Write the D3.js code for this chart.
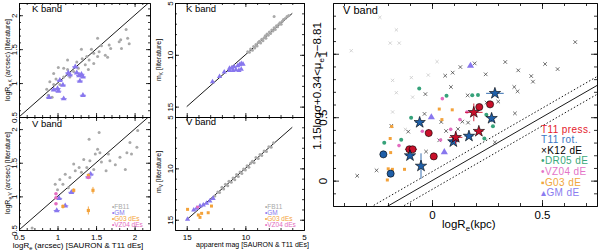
<!DOCTYPE html>
<html>
<head>
<meta charset="utf-8">
<script src="https://cdn.jsdelivr.net/npm/d3@7"></script>
<style>
  body { margin: 0; background: #fff; }
</style>
</head>
<body>
<div id="chart"></div>
<script>
// ---------- data ----------
// left column: log Re [arcsec], x = SAURON & T11, y = literature
var reK_FB11 = [[1.89,1.79],[1.91,1.66],[1.82,1.64],[1.93,1.58],[1.83,1.51],[1.80,1.61],[1.52,1.66],[1.57,1.55],
  [1.67,1.56],[1.69,1.51],[1.31,1.50],[1.44,1.50],[1.54,1.46],[1.47,1.44],[1.62,1.41],[1.38,1.39],[1.52,1.39],
  [1.65,1.38],[1.32,1.36],[1.41,1.34],[1.13,1.34],[1.25,1.31],[1.47,1.29],[1.36,1.27],[1.01,1.23],[1.08,1.22],
  [1.27,1.22],[1.40,1.20],[1.13,1.20],[1.21,1.17],[0.95,1.14],[1.08,1.09],[0.98,1.06],[0.90,1.02],[0.95,0.98],
  [0.86,0.91],[1.03,0.98],[0.88,0.82],[0.93,0.79],[1.16,1.09]];
var reK_GM = [[1.23,1.24],[1.14,1.15],[1.16,1.12],[1.25,1.15],[1.31,1.13],[1.28,1.11],[1.33,1.09],[1.29,1.03],
  [1.03,1.04],[1.07,0.97],[1.00,0.92],[0.95,0.90],[1.01,0.88],[0.89,0.79],[1.08,0.77],[1.33,0.82]];
var reV_FB11 = [[1.54,1.95],[1.41,1.85],[2.04,1.98],[1.94,1.80],[2.03,1.73],[1.52,1.70],[1.55,1.65],[1.49,1.63],
  [1.66,1.63],[1.90,1.65],[1.96,1.63],[1.81,1.58],[1.34,1.55],[1.42,1.53],[1.57,1.51],[1.68,1.53],[1.21,1.48],
  [1.28,1.43],[1.38,1.43],[1.47,1.40],[1.23,1.38],[1.31,1.36],[1.10,1.33],[1.63,1.38],[1.03,1.25],[1.16,1.28],
  [1.07,1.18],[1.14,1.13],[1.00,1.10],[0.97,1.18],[0.67,0.53],[1.75,1.47],[1.88,1.40]];
var reV_GM = [[1.43,1.33],[1.40,1.29],[1.18,1.06],[1.02,0.97],[1.10,0.86],[0.99,0.79]];
var reV_G03 = [[1.21,1.09],[1.46,1.09],[1.07,0.85],[1.40,0.79],[1.40,1.31]];
var reV_G03err = [0.03, 0.05, 0.03, 0.06, 0.03];
var reV_VZ04 = [[1.40,1.28],[0.98,0.98],[0.98,0.89],[0.98,1.04]];

// middle column: apparent magnitudes, x = SAURON & T11, y = literature
var magK_FB11 = [[9.8,9.7],[9.65,9.75],[9.55,9.45],[9.4,9.55],[9.3,9.2],[9.2,9.35],[9.1,9.0],[9.0,9.15],[8.9,8.8],
  [8.8,8.7],[8.7,8.85],[8.6,8.5],[8.5,8.65],[8.4,8.35],[8.3,8.15],[8.25,8.4],[8.15,8.0],[8.05,8.1],[7.95,7.8],
  [7.85,7.95],[7.75,7.6],[7.65,7.7],[7.55,7.4],[7.45,7.55],[7.35,7.2],[7.25,7.3],[7.15,7.05],[7.05,6.9],[6.95,7.05],
  [6.85,6.75],[6.75,6.6],[6.6,6.5],[6.45,6.3],[6.3,6.2],[7.55,6.3]];
var magK_GM = [[12.8,12.6],[12.2,12.1],[11.8,11.65],[11.35,11.3],[11.15,11.25],[10.95,11.15],[10.65,11.05],
  [10.5,10.95],[10.35,10.85],[10.2,10.9],[11.35,11.5],[11.05,11.5],[10.8,11.45],[10.55,11.5],[10.35,11.4]];
var magV_FB11 = [[12.6,12.7],[12.35,12.3],[12.2,12.35],[12.0,11.85],[11.85,12.0],[11.7,11.55],[11.5,11.7],
  [11.4,11.25],[11.2,11.35],[11.05,10.95],[10.9,11.1],[10.75,10.6],[10.6,10.8],[10.45,10.35],[10.3,10.5],
  [10.15,10.05],[10.0,10.15],[9.85,9.75],[9.7,9.9],[9.55,9.5],[9.4,9.3],[9.25,9.45],[9.1,8.95],[8.9,9.05],
  [8.75,8.65],[8.6,8.75],[8.4,8.3],[8.2,8.35],[8.0,7.9],[7.8,7.95],[7.6,7.5]];
var magV_GM = [[14.93,14.96],[14.4,14.06],[14.15,13.89],[13.87,13.67],[13.59,13.57],[13.31,13.4],[13.03,13.18],[12.75,12.92]];
var magV_G03 = [[14.93,13.99],[14.01,14.54],[13.73,14.38],[13.87,14.77],[13.17,14.32],[12.89,13.67]];
var magV_VZ04 = [[14.07,13.76]];

// right panel: logRe (kpc) vs 1.15 log sigma + 0.34 <mu_e> - 8.81
var fpOther = [[-0.237,1.287],[-0.367,1.024],[-0.162,1.188],[-0.190,1.084],[-0.149,1.084],[-0.179,0.790],
  [-0.162,0.693],[-0.094,0.812],[-0.017,0.832],[0.023,0.938],[-0.179,0.541],[-0.121,0.404],[-0.088,0.658]];
var fpK12 = [[-0.340,0.038],[-0.252,0.081],[-0.185,0.432],[-0.108,0.386],[-0.030,0.682],[-0.034,0.526],
  [0.060,0.827],[0.094,0.851],[0.129,0.895],[0.194,0.924],[0.244,0.838],[0.333,0.935],[0.392,0.869],[0.451,0.824],
  [0.459,0.780],[0.514,0.919],[0.571,0.879],[0.651,1.092],[0.374,0.738],[0.389,0.704],[0.162,0.672],[0.301,0.623],
  [0.377,0.530],[0.086,0.738],[0.033,0.318],[-0.027,0.229],[0.042,0.462],[0.064,0.391],[0.118,0.407],[0.164,0.457],
  [0.286,0.302],[0.248,0.615],[0.138,0.465]];
var fpDR05 = [[-0.058,0.727],[0.066,0.668],[0.183,0.672],[0.209,0.675],[-0.095,0.496],[-0.217,0.298],
  [-0.140,0.322],[0.247,0.519],[0.277,0.428],[0.238,0.333]];
var fpVZ04 = [[0.047,0.646],[-0.044,0.389],[0.127,0.481],[0.039,0.320],[0.085,0.404],[-0.150,0.276],[0.159,0.541]];
var fpG03 = [[0.033,0.564],[0.092,0.558],[0.045,0.481],[-0.183,0.426],[-0.190,0.332],[-0.188,0.221],
  [-0.199,0.093],[-0.180,0.089],[-0.125,0.089],[-0.203,0.005],[-0.102,0.215]];
var fpGM = [[0.175,0.905],[-0.003,0.499],[0.056,0.225]];
var t11PressStars = [[0.190,0.538],[0.213,0.389],[0.108,0.341]];
var t11PressStarErr = [[0.04,0.07],[0.02,0.02],[0.03,0.05]];
var t11PressDisks = [[0.215,0.580],[0.264,0.601],[-0.015,0.375],[-0.103,0.247],[-0.088,0.247],[0.008,0.191]];
var t11PressDiskErr = [[0.01,0.02],[0.01,0.02],[0.01,0.03],[0.02,0.02],[0.02,0.02],[0.01,0.02]];
var t11RotStars = [[0.286,0.688],[0.271,0.491],[0.168,0.351],[0.097,0.307],[-0.056,0.459],[-0.100,0.197],[-0.050,0.115]];
var t11RotStarErr = [[0.04,0.02],[0.01,0.03],[0.02,0.02],[0.02,0.02],[0.02,0.02],[0.02,0.02],[0.01,0.10]];
var t11RotDisks = [[-0.221,0.207],[-0.188,0.055]];
var t11RotDiskErr = [[0.01,0.01],[0.01,0.01]];
var fpScatter = 0.07;

// tick labels
var reTicks = [0.5, 1, 1.5, 2];
var magTicks = [15, 10, 5];
var fpXTicks = [0, 0.5];
var fpYTicks = [0, 0.5, 1];

var fpLegend = ["T11 press.", "T11 rot.", "\u00d7K12 dE", "\u2022DR05 dE", "\u2022VZ04 dE", "\u25aaG03 dE", "\u25b4GM dE"];
var smallLegend = ["\u2022FB11", "\u2022GM", "\u2022G03 dEs", "\u2022VZ04 dEs"];

// ---------- colours ----------
var cGray = "#a9a9a9", cGM = "#8877ee", cG03 = "#f3a23a", cVZ = "#e46cc0", cDR = "#36a27a",
    cRed = "#c8102a", cBlue = "#1f5fa8", cPale = "#c9c9c9";

var svg = d3.select("#chart").append("svg")
    .attr("width", 600).attr("height", 250)
    .style("font-family", "'Liberation Sans', Arial, sans-serif");
svg.append("rect").attr("width", 600).attr("height", 250).attr("fill", "#fff");
var defs = svg.append("defs");
var nClip = 0;

function panel(xDom, xRng, yDom, yRng) {
    var x = d3.scaleLinear().domain(xDom).range(xRng);
    var y = d3.scaleLinear().domain(yDom).range(yRng);
    var id = "clip" + (nClip++);
    defs.append("clipPath").attr("id", id).append("rect")
        .attr("x", xRng[0]).attr("y", yRng[1])
        .attr("width", xRng[1] - xRng[0]).attr("height", yRng[0] - yRng[1]);
    var g = svg.append("g").attr("clip-path", "url(#" + id + ")");
    return {x: x, y: y, g: g};
}

// IDL-like frame: inward ticks on all four sides
function frame(p, o) {
    var xr = p.x.range(), yr = p.y.range();
    var sides = [
        {ax: d3.axisBottom(p.x), t: [0, yr[0]], maj: o.xMaj, min: o.xMin, lab: o.xLab},
        {ax: d3.axisTop(p.x), t: [0, yr[1]], maj: o.xMaj, min: o.xMin, lab: false},
        {ax: d3.axisLeft(p.y), t: [xr[0], 0], maj: o.yMaj, min: o.yMin, lab: o.yLab, vert: true},
        {ax: d3.axisRight(p.y), t: [xr[1], 0], maj: o.yMaj, min: o.yMin, lab: false}
    ];
    sides.forEach(function(s) {
        var gMin = svg.append("g").attr("transform", "translate(" + s.t + ")")
            .call(s.ax.tickValues(s.min).tickSize(-o.tMin).tickSizeOuter(0).tickFormat(""));
        var gMaj = svg.append("g").attr("transform", "translate(" + s.t + ")")
            .call(s.ax.tickValues(s.maj).tickSize(-o.tMaj).tickSizeOuter(0).tickPadding(o.pad)
                .tickFormat(s.lab ? function(d) { return String(d); } : ""));
        [gMin, gMaj].forEach(function(g) {
            g.selectAll("line, path").attr("stroke", "#000").attr("stroke-width", 0.8);
        });
        gMaj.selectAll("text").attr("font-size", o.font).attr("fill", "#000")
            .attr("font-family", "'Liberation Sans', Arial, sans-serif");
        if (s.vert) {
            gMaj.selectAll("text").attr("transform", "rotate(-90)")
                .attr("x", 0).attr("y", -o.ypad).attr("dy", 0).attr("text-anchor", "middle");
        }
    });
}

function dots(p, data, r, color) {
    p.g.selectAll(null).data(data).enter().append("circle")
        .attr("cx", function(d) { return p.x(d[0]); })
        .attr("cy", function(d) { return p.y(d[1]); })
        .attr("r", r).attr("fill", color);
}
function syms(p, data, type, size, fill, stroke) {
    p.g.selectAll(null).data(data).enter().append("path")
        .attr("transform", function(d) { return "translate(" + p.x(d[0]) + "," + p.y(d[1]) + ")"; })
        .attr("d", d3.symbol().type(type).size(size))
        .attr("fill", fill).attr("stroke", stroke || "none").attr("stroke-width", 0.6);
}
function crosses(p, data, s, color, w) {
    p.g.selectAll(null).data(data).enter().append("path")
        .attr("transform", function(d) { return "translate(" + p.x(d[0]) + "," + p.y(d[1]) + ")"; })
        .attr("d", "M" + (-s) + "," + (-s) + "L" + s + "," + s + "M" + (-s) + "," + s + "L" + s + "," + (-s))
        .attr("stroke", color).attr("stroke-width", w || 0.8).attr("fill", "none");
}
function errs(p, data, err, color) {
    data.forEach(function(d, i) {
        var ex = err[i][0], ey = err[i][1];
        if (ex > 0) p.g.append("line").attr("x1", p.x(d[0] - ex)).attr("x2", p.x(d[0] + ex))
            .attr("y1", p.y(d[1])).attr("y2", p.y(d[1])).attr("stroke", color).attr("stroke-width", 0.9);
        if (ey > 0) p.g.append("line").attr("x1", p.x(d[0])).attr("x2", p.x(d[0]))
            .attr("y1", p.y(d[1] - ey)).attr("y2", p.y(d[1] + ey)).attr("stroke", color).attr("stroke-width", 0.9);
    });
}
function oneToOne(p, off, dash) {
    var d0 = p.x.domain();
    p.g.append("line")
        .attr("x1", p.x(d0[0] - 1)).attr("y1", p.y(d0[0] - 1 + off))
        .attr("x2", p.x(d0[1] + 1)).attr("y2", p.y(d0[1] + 1 + off))
        .attr("stroke", "#000").attr("stroke-width", 0.9)
        .attr("stroke-dasharray", dash || null);
}
function label(tx, ty, rot, size, parts, anchor, color) {
    var t = svg.append("text")
        .attr("transform", "translate(" + tx + "," + ty + ")" + (rot ? " rotate(" + rot + ")" : ""))
        .attr("font-size", size).attr("text-anchor", anchor || "middle").attr("fill", color || "#000");
    var shift = 0;
    parts.forEach(function(q) {
        var sub = typeof q !== "string";
        var s = t.append("tspan").attr("dy", sub ? size * 0.3 : -shift).text(sub ? q.sub : q);
        if (sub) s.attr("font-size", size * 0.7);
        shift = sub ? size * 0.3 : 0;
    });
    return t;
}

// ---------- top-left: K band radii ----------
var pA = panel([0.5, 2.2], [19, 150], [0.5, 2.18], [117, 3]);
oneToOne(pA, 0);
dots(pA, reK_FB11, 1.5, cGray);
errs(pA, reK_GM, reK_GM.map(function() { return [0.04, 0]; }), cGM);
syms(pA, reK_GM, d3.symbolTriangle, 14, cGM);
var minorRe = d3.range(0.6, 2.2, 0.1);
frame(pA, {xMaj: reTicks, xMin: minorRe, yMaj: reTicks, yMin: minorRe, xLab: false, yLab: true,
    tMaj: 4, tMin: 2, pad: 4, ypad: 2, font: 8});
label(32, 12, 0, 9.5, ["K  band"], "start");
label(10, 60, -90, 7, ["logR", {sub: "e,K"}, " (arcsec) [literature]"]);

// ---------- bottom-left: V band radii ----------
var pC = panel([0.5, 2.2], [19, 150], [0.5, 2.18], [230, 117]);
oneToOne(pC, 0);
dots(pC, reV_FB11, 1.5, cGray);
errs(pC, reV_GM, reV_GM.map(function() { return [0.04, 0]; }), cGM);
syms(pC, reV_GM, d3.symbolTriangle, 14, cGM);
errs(pC, reV_G03, reV_G03err.map(function(e) { return [0, e]; }), cG03);
syms(pC, reV_G03, d3.symbolSquare, 10, cG03);
dots(pC, reV_VZ04, 1.8, cVZ);
frame(pC, {xMaj: reTicks, xMin: minorRe, yMaj: reTicks, yMin: minorRe, xLab: true, yLab: true,
    tMaj: 4, tMin: 2, pad: 4, ypad: 2, font: 8});
label(32, 127, 0, 9.5, ["V  band"], "start");
label(10, 173, -90, 7, ["logR", {sub: "e,V"}, " (arcsec) [literature]"]);
label(78, 248, 0, 8, ["logR", {sub: "e"}, " (arcsec) [SAURON & T11  dEs]"]);
[cGray, cGM, cG03, cVZ].forEach(function(c, i) {
    label(112, 209 + i * 6, 0, 6.5, [smallLegend[i]], "start", c);
});

// ---------- top-middle: K band magnitudes ----------
var pB = panel([16, 5], [175, 304], [16, 5], [117, 3]);
oneToOne(pB, 0);
dots(pB, magK_FB11, 1.5, cGray);
syms(pB, magK_GM, d3.symbolTriangle, 12, cGM);
var minorMag = d3.range(6, 16, 1);
frame(pB, {xMaj: magTicks, xMin: minorMag, yMaj: magTicks, yMin: minorMag, xLab: false, yLab: true,
    tMaj: 4, tMin: 2, pad: 4, ypad: 2, font: 8});
label(186, 12, 0, 9.5, ["K  band"], "start");
label(161, 60, -90, 7, ["m", {sub: "K"}, " [literature]"]);

// ---------- bottom-middle: V band magnitudes ----------
var pD = panel([16, 5], [175, 304], [16, 5], [230, 117]);
oneToOne(pD, 0);
dots(pD, magV_FB11, 1.5, cGray);
syms(pD, magV_GM, d3.symbolTriangle, 12, cGM);
syms(pD, magV_G03, d3.symbolSquare, 9, cG03);
dots(pD, magV_VZ04, 1.6, cVZ);
frame(pD, {xMaj: magTicks, xMin: minorMag, yMaj: magTicks, yMin: minorMag, xLab: true, yLab: true,
    tMaj: 4, tMin: 2, pad: 4, ypad: 2, font: 8});
label(186, 125, 0, 9.5, ["V  band"], "start");
label(161, 172, -90, 7, ["m", {sub: "V"}, " [literature]"]);
label(196, 247, 0, 7, ["apparent mag [SAURON & T11  dEs]"], "start");
[cGray, cGM, cG03, cVZ].forEach(function(c, i) {
    label(265, 209 + i * 6, 0, 6.5, [smallLegend[i]], "start", c);
});

// ---------- right: fundamental plane ----------
var pE = panel([-0.45, 0.75], [333, 597], [-0.2, 1.4], [206, 3]);
oneToOne(pE, 0);
oneToOne(pE, fpScatter, "1.5,2");
oneToOne(pE, -fpScatter, "1.5,2");
crosses(pE, fpOther, 1.6, cPale, 0.8);
crosses(pE, fpK12, 1.8, "#333", 0.7);
dots(pE, fpDR05, 2, cDR);
dots(pE, fpVZ04, 1.8, cVZ);
syms(pE, fpG03, d3.symbolSquare, 9, cG03);
syms(pE, fpGM, d3.symbolTriangle, 22, cGM);
errs(pE, t11RotDisks, t11RotDiskErr, cBlue);
syms(pE, t11RotDisks, d3.symbolCircle, 40, cBlue, "#000");
errs(pE, t11PressDisks, t11PressDiskErr, cRed);
syms(pE, t11PressDisks, d3.symbolCircle, 40, cRed, "#000");
errs(pE, t11RotStars, t11RotStarErr, cBlue);
syms(pE, t11RotStars, d3.symbolStar, 40, cBlue, "#000");
errs(pE, t11PressStars, t11PressStarErr, cRed);
syms(pE, t11PressStars, d3.symbolStar, 40, cRed, "#000");
var minorFx = d3.range(-0.4, 0.75, 0.1), minorFy = d3.range(-0.1, 1.4, 0.1);
frame(pE, {xMaj: fpXTicks, xMin: minorFx, yMaj: fpYTicks, yMin: minorFy, xLab: true, yLab: true,
    tMaj: 6, tMin: 3, pad: 5, ypad: 6, font: 11.5});
label(343, 14, 0, 11, ["V  band"], "start");
label(321, 86, -90, 11.5, ["1.15log\u03c3+0.34<\u03bc", {sub: "e"}, ">\u22128.81"]);
label(442, 228, 0, 11.5, ["logR", {sub: "e"}, "(kpc)"], "start");
var legCols = ["#e4202c", "#3a78c4", "#000", "#3aa87a", "#e474c8", "#f0a640", "#8a7cf0"];
fpLegend.forEach(function(t, i) {
    label(541, 132.5 + i * 10.6, 0, 10, [t], "start", legCols[i]).attr("letter-spacing", 0.4);
});
</script>
</body>
</html>
